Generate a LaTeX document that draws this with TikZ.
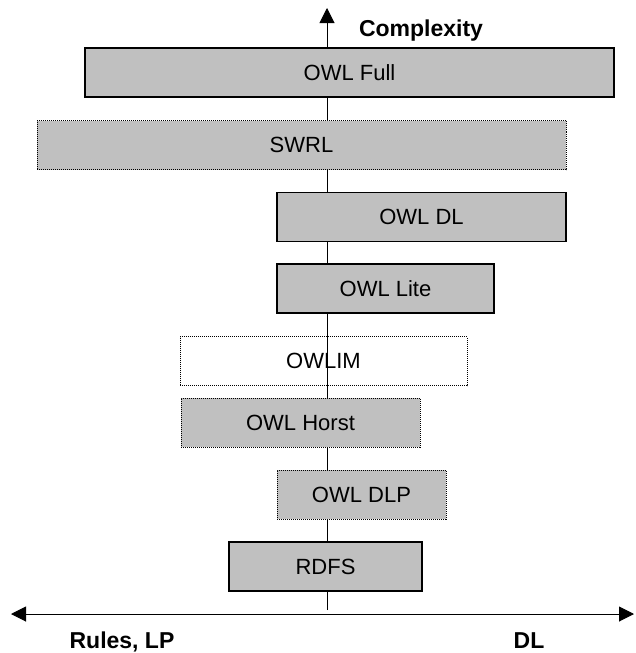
\documentclass[tikz,border=0pt]{standalone}
\usepackage{fontspec}
\setmainfont{Liberation Sans}
\usetikzlibrary{arrows.meta,positioning}
\definecolor{boxgrey}{RGB}{192,192,192}

\begin{document}
\begin{tikzpicture}[x=1pt, y=-1pt,
    level/.style={rectangle, draw=black, line width=1.3pt, fill=boxgrey,
        minimum height=49pt, inner sep=0pt, font=\fontsize{22}{26}\selectfont},
    dotbox/.style={level, line width=1pt, dash pattern=on 1pt off 1pt},
    axislabel/.style={inner sep=0pt, anchor=base, font=\fontsize{23}{27}\selectfont\bfseries},
    arr/.style={-{Triangle[length=15pt, width=15pt]}, line width=1pt},
    darr/.style={{Triangle[length=15pt, width=15pt]}-{Triangle[length=15pt, width=15pt]}, line width=1pt}
]
    \useasboundingbox (0,0) rectangle (635,653);

    \coordinate (top) at (327,8);
    \coordinate (foot) at (327,610);
    \coordinate (left) at (11,614);
    \coordinate (right) at (634,614);

    \draw[arr] (foot) -- (top);
    \draw[darr] (left) -- (right);

    \node[level, minimum width=529pt] (full) at (349.5,72.5) {OWL Full};
    \node[dotbox, minimum width=529pt] (swrl) at (301.5,145) {SWRL};
    \node[level, minimum width=289pt] (dl) at (421.5,217) {OWL DL};
    \node[level, minimum width=217pt] (lite) at (385.5,288.5) {OWL Lite};
    \node[dotbox, fill=none, minimum width=287pt] (owlim) at (323.5,361) {OWLIM};
    \node[dotbox, minimum width=239pt] (horst) at (300.5,422.5) {OWL Horst};
    \node[dotbox, minimum width=169pt] (dlp) at (361.5,494.5) {OWL DLP};
    \node[level, minimum width=193pt] (rdfs) at (325.5,566.5) {RDFS};

    \node[axislabel] (complexity) at (421,36) {Complexity};
    \node[axislabel] (rules) at (122,648) {Rules, LP};
    \node[axislabel] (dllabel) at (529,648) {DL};
\end{tikzpicture}
\end{document}
